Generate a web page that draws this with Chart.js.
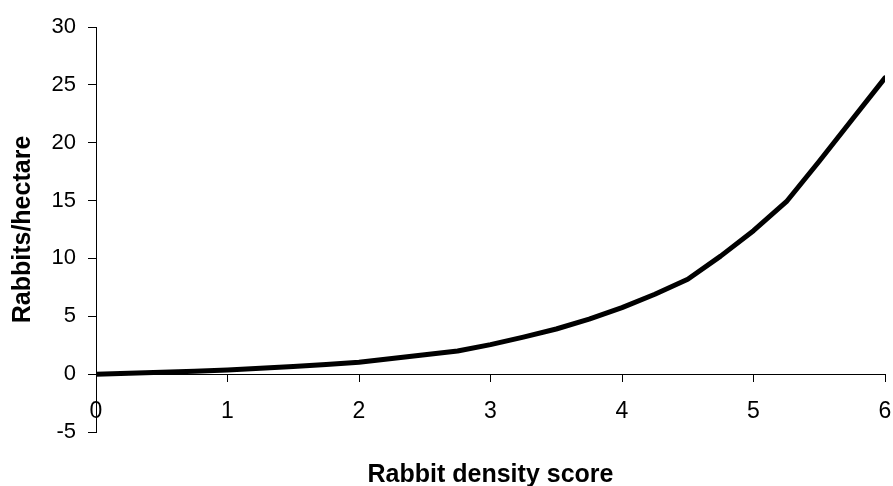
<!DOCTYPE html>
<html>
<head>
<meta charset="utf-8">
<script src="https://cdn.jsdelivr.net/npm/chart.js@4"></script>
<style>
  html, body { margin: 0; padding: 0; background: #fff; }
  #wrap { width: 893px; height: 486px; }
</style>
</head>
<body>
<div id="wrap"><canvas id="rabbit-chart" width="893" height="486"></canvas></div>
<script>
// --- data ---
const densityScore = [0, 0.25, 0.5, 0.75, 1, 1.25, 1.5, 1.75, 2, 2.25, 2.5, 2.75, 3,
    3.25, 3.5, 3.75, 4, 4.25, 4.5, 4.75, 5, 5.25, 5.5, 5.75, 6];
const rabbitsPerHa = [0, 0.08, 0.16, 0.26, 0.36, 0.5, 0.66, 0.84, 1.03, 1.35, 1.68, 2.0, 2.55,
    3.2, 3.9, 4.75, 5.75, 6.9, 8.2, 10.2, 12.4, 14.9, 18.4, 22.0, 25.6];
const xTicks = [0, 1, 2, 3, 4, 5, 6];
const yTicks = [-5, 0, 5, 10, 15, 20, 25, 30];

const FONT = '"Liberation Sans", Arial, sans-serif';

const points = densityScore.map((x, i) => ({ x: x, y: rabbitsPerHa[i] }));

const ctx = document.getElementById('rabbit-chart').getContext('2d');
new Chart(ctx, {
    type: 'line',
    data: {
        datasets: [{
            label: 'Rabbits/hectare',
            data: points,
            borderColor: '#000',
            borderWidth: 5,
            borderCapStyle: 'round',
            borderJoinStyle: 'round',
            tension: 0,
            pointRadius: 0,
            fill: false
        }]
    },
    options: {
        responsive: false,
        animation: false,
        layout: { padding: { left: 0, right: 8, top: 27, bottom: 54 } },
        plugins: { legend: { display: false }, tooltip: { enabled: false } },
        scales: {
            x: {
                type: 'linear',
                position: { y: 0 },
                min: 0, max: 6,
                afterBuildTicks: (axis) => { axis.ticks = xTicks.map(v => ({ value: v })); },
                // keep the label overhang from pushing the plot area in
                afterFit: (axis) => { axis.paddingLeft = 0; axis.paddingRight = 8; },
                ticks: { color: '#000', font: { family: FONT, size: 23 }, padding: 17, maxRotation: 0 },
                grid: { drawOnChartArea: false, tickLength: 7, color: '#000', tickColor: '#000' },
                border: { color: '#000', width: 1 },
                title: { display: true, text: 'Rabbit density score', color: '#000',
                         font: { family: FONT, size: 25, weight: 'bold' }, padding: { top: 17, bottom: 0 } }
            },
            y: {
                min: -5, max: 30,
                afterBuildTicks: (axis) => { axis.ticks = yTicks.map(v => ({ value: v })); },
                afterFit: (axis) => { axis.width = 96; },
                ticks: { color: '#000', font: { family: FONT, size: 22 }, padding: 12 },
                grid: { drawOnChartArea: false, tickLength: 8, color: '#000', tickColor: '#000' },
                border: { color: '#000', width: 1 },
                title: { display: true, text: 'Rabbits/hectare', color: '#000',
                         font: { family: FONT, size: 25, weight: 'bold' }, padding: { top: 8, bottom: 0 } }
            }
        }
    }
});
</script>
</body>
</html>
